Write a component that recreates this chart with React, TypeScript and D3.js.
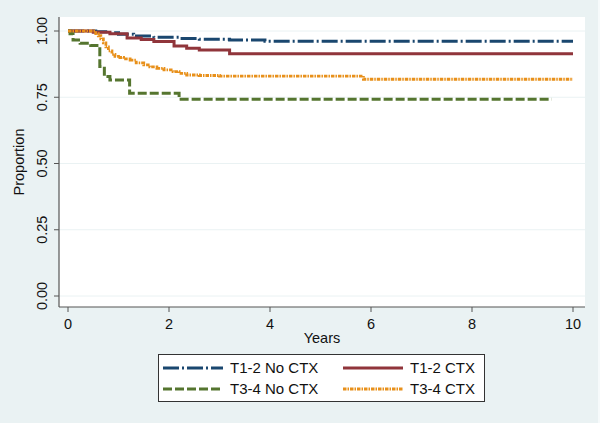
import React from 'react';
import * as d3 from 'd3';

// Kaplan-Meier step data (time in years, proportion surviving after the step)
const t12NoCtxTimes = [0, 0.55, 0.8, 1.0, 1.3, 1.7, 2.2, 2.6, 3.2, 3.9, 10.0];
const t12NoCtxValues = [1, 0.997, 0.993, 0.988, 0.981, 0.976, 0.972, 0.969, 0.966, 0.961, 0.961];

const t12CtxTimes = [0, 0.5, 0.83, 1.17, 1.45, 1.7, 2.1, 2.35, 2.6, 3.2, 10.0];
const t12CtxValues = [1, 0.995, 0.99, 0.974, 0.968, 0.96, 0.943, 0.935, 0.928, 0.914, 0.914];

const t34NoCtxTimes = [0, 0.04, 0.1, 0.24, 0.45, 0.63, 0.72, 0.83, 1.22, 2.2, 9.58];
const t34NoCtxValues = [1, 0.99, 0.966, 0.954, 0.945, 0.866, 0.828, 0.815, 0.765, 0.742, 0.742];

const t34CtxTimes = [0, 0.55, 0.6, 0.65, 0.7, 0.75, 0.8, 0.87, 0.93, 1.0, 1.1, 1.23, 1.35, 1.5, 1.62, 1.76, 1.9, 2.08, 2.2, 2.35, 2.6, 3.0, 5.85, 10.0];
const t34CtxValues = [1, 0.99, 0.982, 0.97, 0.955, 0.94, 0.925, 0.912, 0.904, 0.9, 0.895, 0.89, 0.88, 0.872, 0.865, 0.859, 0.853, 0.847, 0.84, 0.834, 0.832, 0.83, 0.818, 0.818];

const xTicks = [0, 2, 4, 6, 8, 10];
const yTicks = [0, 0.25, 0.5, 0.75, 1];

const series = [
  { name: 'T1-2 No CTX', times: t12NoCtxTimes, values: t12NoCtxValues, color: '#1a476f', dash: '16 3 2 3', width: 3 },
  { name: 'T1-2 CTX', times: t12CtxTimes, values: t12CtxValues, color: '#90353b', dash: undefined, width: 3 },
  { name: 'T3-4 No CTX', times: t34NoCtxTimes, values: t34NoCtxValues, color: '#55752f', dash: '9 3', width: 3 },
  { name: 'T3-4 CTX', times: t34CtxTimes, values: t34CtxValues, color: '#e8901a', dash: '3.5 1 1.5 1', width: 2.8 },
];

export default function App() {
  const width = 600;
  const height = 423;
  const plot = { left: 59, right: 585, top: 17, bottom: 307 };

  const x = d3.scaleLinear().domain([0, 10]).range([68, 573]);
  const y = d3.scaleLinear().domain([0, 1]).range([296, 31]);

  const line = d3
    .line<[number, number]>()
    .x((d) => x(d[0]))
    .y((d) => y(d[1]))
    .curve(d3.curveStepAfter);

  const font = 'Arial, "Liberation Sans", sans-serif';
  const legendRows = [
    [series[0], series[1]],
    [series[2], series[3]],
  ];

  return (
    <svg
      width={width}
      height={height}
      style={{ position: 'absolute', left: 0, top: 0 }}
      fontFamily={font}
    >
      <rect x={0} y={0} width={width} height={height} fill="#eaf2f3" />
      <rect x={598} y={0} width={2} height={height} fill="#f6fafb" />
      <rect x={plot.left} y={plot.top} width={plot.right - plot.left} height={plot.bottom - plot.top} fill="#ffffff" />

      {/* gridlines */}
      {yTicks.map((t) => (
        <line key={`g${t}`} x1={plot.left} x2={plot.right} y1={y(t)} y2={y(t)} stroke="#eaf2f3" strokeWidth={1} />
      ))}

      {/* curves */}
      {series.map((s) => (
        <path
          key={s.name}
          d={line(s.times.map((t, i) => [t, s.values[i]] as [number, number])) || ''}
          fill="none"
          stroke={s.color}
          strokeWidth={s.width}
          strokeDasharray={s.dash}
        />
      ))}

      {/* axes */}
      <line x1={plot.left} x2={plot.left} y1={plot.top} y2={plot.bottom} stroke="#555" strokeWidth={1.2} />
      <line x1={plot.left} x2={plot.right} y1={plot.bottom} y2={plot.bottom} stroke="#555" strokeWidth={1.2} />

      {yTicks.map((t) => (
        <g key={`y${t}`}>
          <line x1={plot.left - 5} x2={plot.left} y1={y(t)} y2={y(t)} stroke="#555" strokeWidth={1} />
          <text
            transform={`translate(47,${y(t)}) rotate(-90)`}
            textAnchor="middle"
            fontSize={14.5}
            fill="#111"
          >
            {t.toFixed(2)}
          </text>
        </g>
      ))}

      {xTicks.map((t) => (
        <g key={`x${t}`}>
          <line x1={x(t)} x2={x(t)} y1={plot.bottom} y2={plot.bottom + 5} stroke="#555" strokeWidth={1} />
          <text x={x(t)} y={329} textAnchor="middle" fontSize={14.5} fill="#111">
            {t}
          </text>
        </g>
      ))}

      <text x={(plot.left + plot.right) / 2} y={343} textAnchor="middle" fontSize={14.5} fill="#111">
        Years
      </text>
      <text transform={`translate(24,${(plot.top + plot.bottom) / 2}) rotate(-90)`} textAnchor="middle" fontSize={14.5} fill="#111">
        Proportion
      </text>

      {/* legend */}
      <rect x={158.5} y={354.5} width={326} height={47} fill="#ffffff" stroke="#333" strokeWidth={1} />
      {legendRows.map((row, ri) =>
        row.map((s, ci) => {
          const sx = ci === 0 ? 163 : 343;
          const cy = ri === 0 ? 368 : 389;
          return (
            <g key={s.name}>
              <line
                x1={sx}
                x2={sx + 60}
                y1={cy}
                y2={cy}
                stroke={s.color}
                strokeWidth={s.width}
                strokeDasharray={s.dash}
              />
              <text x={sx + 67} y={cy + 5} fontSize={15} fill="#111">
                {s.name}
              </text>
            </g>
          );
        })
      )}
    </svg>
  );
}
